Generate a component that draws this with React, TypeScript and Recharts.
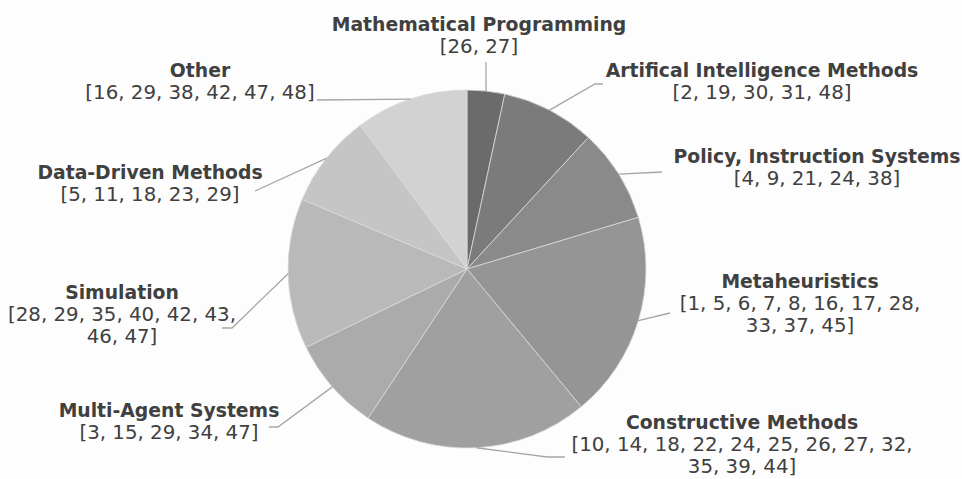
import { PieChart, Pie, Cell } from "recharts";

// categories, clockwise from 12 o'clock
const CATEGORIES = [
  "Mathematical Programming",
  "Artifical Intelligence Methods",
  "Policy, Instruction Systems",
  "Metaheuristics",
  "Constructive Methods",
  "Multi-Agent Systems",
  "Simulation",
  "Data-Driven Methods",
  "Other",
];

// number of references in each category
const COUNTS = [2, 5, 5, 11, 12, 5, 8, 5, 6];

const REFERENCES = [
  [26, 27],
  [2, 19, 30, 31, 48],
  [4, 9, 21, 24, 38],
  [1, 5, 6, 7, 8, 16, 17, 28, 33, 37, 45],
  [10, 14, 18, 22, 24, 25, 26, 27, 32, 35, 39, 44],
  [3, 15, 29, 34, 47],
  [28, 29, 35, 40, 42, 43, 46, 47],
  [5, 11, 18, 23, 29],
  [16, 29, 38, 42, 47, 48],
];

const COLORS = [
  "#6b6b6b",
  "#7b7b7b",
  "#8a8a8a",
  "#959595",
  "#a0a0a0",
  "#ababab",
  "#b9b9b9",
  "#c5c5c5",
  "#d2d2d2",
];

const CX = 467;
const CY = 269;
const RADIUS = 179;

// label placement relative to pie centre: leader line bend points, text centre, first baseline, refs per line
const LABEL_LAYOUT = [
  { line: [[19, -207]], tx: 12, ty: -238, perLine: 9 },
  { line: [[128, -185], [136, -185]], tx: 295, ty: -192, perLine: 9 },
  { line: [[195, -97]], tx: 350, ty: -106, perLine: 9 },
  { line: [[203, 44]], tx: 333, ty: 19, perLine: 8 },
  { line: [[80, 188], [98, 188]], tx: 275, ty: 160, perLine: 9 },
  { line: [[-189, 158], [-198, 158]], tx: -298, ty: 148, perLine: 9 },
  { line: [[-235, 59], [-245, 59]], tx: -345, ty: 30, perLine: 6 },
  { line: [[-212, -78]], tx: -317, ty: -90, perLine: 9 },
  { line: [[-150, -169]], tx: -267, ty: -192, perLine: 9 },
];

const data = CATEGORIES.map((name, i) => ({ name, value: COUNTS[i], refs: REFERENCES[i] }));

const RAD = Math.PI / 180;
const LINE_H = 22;

function renderLabel(props: any) {
  const { cx, cy, midAngle, outerRadius, index } = props;
  const layout = LABEL_LAYOUT[index];
  const ex = cx + outerRadius * Math.cos(-midAngle * RAD);
  const ey = cy + outerRadius * Math.sin(-midAngle * RAD);
  const pts = [[ex, ey], ...layout.line.map(([dx, dy]) => [cx + dx, cy + dy])];
  const refs = REFERENCES[index];
  const rows: string[] = [];
  for (let i = 0; i < refs.length; i += layout.perLine) {
    const chunk = refs.slice(i, i + layout.perLine).join(", ");
    const last = i + layout.perLine >= refs.length;
    rows.push((i === 0 ? "[" : "") + chunk + (last ? "]" : ","));
  }
  const x = cx + layout.tx;
  const y = cy + layout.ty;
  return (
    <g key={`lbl-${index}`}>
      <polyline
        points={pts.map((p) => p.join(",")).join(" ")}
        fill="none"
        stroke="#a6a6a6"
        strokeWidth={1.3}
      />
      <text
        x={x}
        y={y}
        textAnchor="middle"
        fill="#404040"
        fontFamily="'DejaVu Sans', Verdana, sans-serif"
        fontWeight="bold"
        fontSize={18.8}
      >
        {CATEGORIES[index]}
      </text>
      {rows.map((r, k) => (
        <text
          key={k}
          x={x}
          y={y + LINE_H * (k + 1)}
          textAnchor="middle"
          fill="#404040"
          fontFamily="'DejaVu Sans', Verdana, sans-serif"
          fontSize={19.8}
        >
          {r}
        </text>
      ))}
    </g>
  );
}

export default function App() {
  return (
    <div style={{ width: 962, height: 479, background: "#fdfdfd" }}>
      <style>{`body{margin:0}`}</style>
      <PieChart width={962} height={479} margin={{ top: 0, right: 0, bottom: 0, left: 0 }}>
        <Pie
          data={data}
          dataKey="value"
          nameKey="name"
          cx={CX}
          cy={CY}
          outerRadius={RADIUS}
          startAngle={90}
          endAngle={-270}
          stroke="#d9d9d9"
          strokeWidth={0.8}
          label={renderLabel}
          labelLine={false}
          isAnimationActive={false}
        >
          {data.map((d, i) => (
            <Cell key={d.name} fill={COLORS[i]} />
          ))}
        </Pie>
      </PieChart>
    </div>
  );
}
